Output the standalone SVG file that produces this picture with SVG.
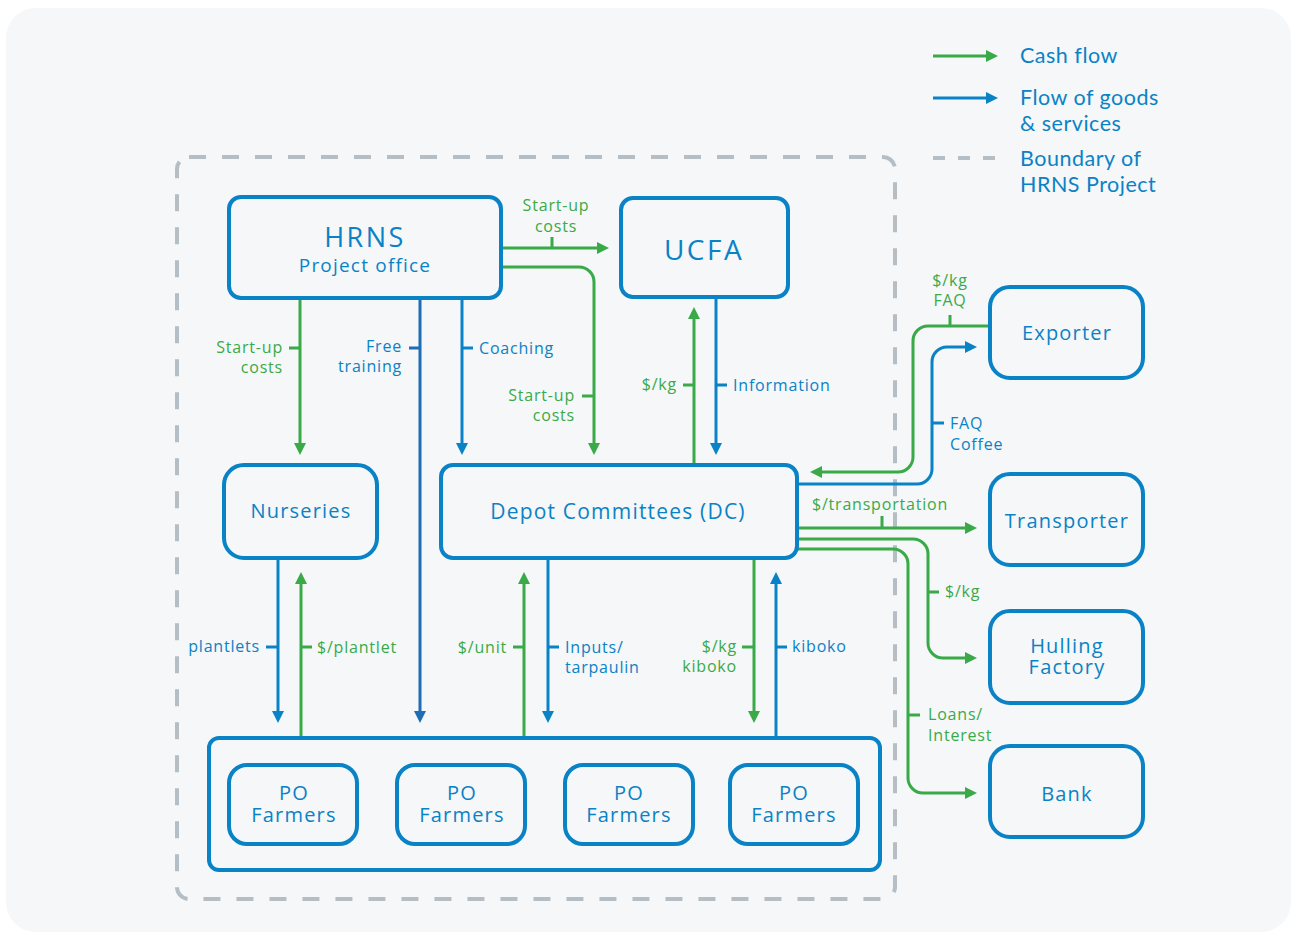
<svg xmlns="http://www.w3.org/2000/svg" width="1292" height="933" viewBox="0 0 1292 933">
<defs>
<marker id="ag" viewBox="0 0 12 12" refX="1" refY="6" markerWidth="12" markerHeight="12" markerUnits="userSpaceOnUse" orient="auto"><path d="M0,0 L12,6 L0,12 z" fill="#3aaa48"/></marker>
<marker id="ab" viewBox="0 0 12 12" refX="1" refY="6" markerWidth="12" markerHeight="12" markerUnits="userSpaceOnUse" orient="auto"><path d="M0,0 L12,6 L0,12 z" fill="#0a82c6"/></marker>
<marker id="ad" viewBox="0 0 12 12" refX="1" refY="6" markerWidth="12" markerHeight="12" markerUnits="userSpaceOnUse" orient="auto"><path d="M0,0 L12,6 L0,12 z" fill="#1f6db5"/></marker>
</defs>
<style>
.box{fill:none;stroke:#0a82c6;stroke-width:4}
.g{fill:none;stroke:#3aaa48;stroke-width:3}
.b{fill:none;stroke:#0a82c6;stroke-width:3}
.d{fill:none;stroke:#1f6db5;stroke-width:3}
.ga{marker-end:url(#ag)}
.ba{marker-end:url(#ab)}
.da{marker-end:url(#ad)}
text{font-family:"Open Sans","Noto Sans",sans-serif}
.lg{fill:#3aaa48;font-size:16px;letter-spacing:0.8px}
.lb{fill:#0a82c6;font-size:16px;letter-spacing:0.8px}
.nt{fill:#0a82c6;font-size:20px;text-anchor:middle;letter-spacing:1.2px}
.leg{fill:#0a82c6;font-size:21.5px;letter-spacing:0.5px;font-family:Lato,"Open Sans",sans-serif}
.e{text-anchor:end}
.m{text-anchor:middle}
</style>
<rect x="0" y="0" width="1292" height="933" fill="#ffffff"/>
<rect x="6" y="8" width="1285" height="924" rx="30" fill="#f5f7f9"/>

<g id="boundary">
<rect x="177" y="157" width="718" height="742" rx="12" fill="none" stroke="#b5bec4" stroke-width="4" stroke-dasharray="17 16"/>
</g>

<g id="legend">
<path class="g ga" d="M933,56 H987"/>
<text class="leg" x="1020" y="63">Cash flow</text>
<path class="b ba" d="M933,98 H987"/>
<text class="leg" x="1020" y="105">Flow of goods</text>
<text class="leg" x="1020" y="131">&amp; services</text>
<path d="M933,158 H998" fill="none" stroke="#b5bec4" stroke-width="4" stroke-dasharray="12 13"/>
<text class="leg" x="1020" y="166">Boundary of</text>
<text class="leg" x="1020" y="192">HRNS Project</text>
</g>

<g id="connectors">
<path class="g ga" d="M503,248 H598"/><path class="g" d="M552,248 V237"/>
<text class="lg m" x="556" y="211">Start-up</text><text class="lg m" x="556" y="232">costs</text>

<path class="g ga" d="M503,267 H579 A15,15 0 0 1 594,282 V444"/><path class="g" d="M594,396 H582"/>
<text class="lg e" x="575" y="401">Start-up</text><text class="lg e" x="575" y="421">costs</text>

<path class="g ga" d="M300,299 V444"/><path class="g" d="M300,348 H289"/>
<text class="lg e" x="283" y="353">Start-up</text><text class="lg e" x="283" y="373">costs</text>

<path class="d da" d="M420,299 V712"/><path class="d" d="M420,348 H409"/>
<text class="lb e" x="402" y="352">Free</text><text class="lb e" x="402" y="372">training</text>

<path class="b ba" d="M462,299 V444"/><path class="b" d="M462,348 H473"/>
<text class="lb" x="479" y="354">Coaching</text>

<path class="g ga" d="M694,464 V318"/><path class="g" d="M694,385 H683"/>
<text class="lg e" x="677" y="390">$/kg</text>

<path class="b ba" d="M716,299 V444"/><path class="b" d="M716,385 H727"/>
<text class="lb" x="733" y="391">Information</text>

<path class="g ga" d="M988,326 H928 A15,15 0 0 0 913,341 V457 A15,15 0 0 1 898,472 H821"/><path class="g" d="M950,326 V315"/>
<text class="lg m" x="950" y="286">$/kg</text><text class="lg m" x="950" y="306">FAQ</text>

<path class="b ba" d="M797,484 H917 A15,15 0 0 0 932,469 V362 A15,15 0 0 1 947,347 H966"/><path class="b" d="M932,423 H944"/>
<text class="lb" x="950" y="429">FAQ</text><text class="lb" x="950" y="450">Coffee</text>

<path class="g ga" d="M797,528 H966"/><path class="g" d="M882,528 V516"/>
<text class="lg m" x="880" y="510">$/transportation</text>

<path class="g ga" d="M797,539 H913 A15,15 0 0 1 928,554 V643 A15,15 0 0 0 943,658 H966"/><path class="g" d="M928,592 H939"/>
<text class="lg" x="945" y="597">$/kg</text>

<path class="g ga" d="M797,549 H893 A15,15 0 0 1 908,564 V778 A15,15 0 0 0 923,793 H966"/><path class="g" d="M908,715 H920"/>
<text class="lg" x="928" y="720">Loans/</text><text class="lg" x="928" y="741">Interest</text>

<path class="b ba" d="M278,560 V712"/><path class="b" d="M278,647 H266"/>
<text class="lb e" x="260" y="652">plantlets</text>

<path class="g ga" d="M301,737 V583"/><path class="g" d="M301,647 H312"/>
<text class="lg" x="317" y="653">$/plantlet</text>

<path class="g ga" d="M524,737 V583"/><path class="g" d="M524,647 H513"/>
<text class="lg e" x="507" y="653">$/unit</text>

<path class="b ba" d="M548,560 V712"/><path class="b" d="M548,647 H559"/>
<text class="lb" x="565" y="653">Inputs/</text><text class="lb" x="565" y="673">tarpaulin</text>

<path class="g ga" d="M754,560 V712"/><path class="g" d="M754,647 H742"/>
<text class="lg e" x="737" y="652">$/kg</text><text class="lg e" x="737" y="672">kiboko</text>

<path class="b ba" d="M776,737 V583"/><path class="b" d="M776,647 H787"/>
<text class="lb" x="792" y="652">kiboko</text>
</g>

<g id="hrns"><rect class="box" x="229" y="197" width="272" height="101" rx="12"/>
<text class="nt" x="365" y="247" style="font-size:27px;letter-spacing:2.5px">HRNS</text>
<text class="nt" x="365" y="272" style="font-size:19px">Project office</text></g>

<g id="ucfa"><rect class="box" x="621" y="198" width="167" height="99" rx="12"/>
<text class="nt" x="704" y="260" style="font-size:28px;letter-spacing:2.5px">UCFA</text></g>

<g id="nurseries"><rect class="box" x="224" y="465" width="153" height="93" rx="20"/>
<text class="nt" x="301" y="518">Nurseries</text></g>

<g id="dc"><rect class="box" x="441" y="465" width="356" height="93" rx="12"/>
<text class="nt" x="618" y="519" style="font-size:21px">Depot Committees (DC)</text></g>

<g id="exporter"><rect class="box" x="990" y="287" width="153" height="91" rx="20"/>
<text class="nt" x="1067" y="340">Exporter</text></g>

<g id="transporter"><rect class="box" x="990" y="474" width="153" height="91" rx="20"/>
<text class="nt" x="1067" y="528">Transporter</text></g>

<g id="hulling"><rect class="box" x="990" y="611" width="153" height="92" rx="20"/>
<text class="nt" x="1067" y="653">Hulling</text><text class="nt" x="1067" y="674">Factory</text></g>

<g id="bank"><rect class="box" x="990" y="746" width="153" height="91" rx="20"/>
<text class="nt" x="1067" y="801">Bank</text></g>

<g id="farmers"><rect class="box" x="209" y="738" width="671" height="132" rx="10"/>
<g id="po1"><rect class="box" x="229" y="765" width="128" height="79" rx="18"/>
<text class="nt" x="294" y="800">PO</text><text class="nt" x="294" y="822">Farmers</text></g>
<g id="po2"><rect class="box" x="397" y="765" width="128" height="79" rx="18"/>
<text class="nt" x="462" y="800">PO</text><text class="nt" x="462" y="822">Farmers</text></g>
<g id="po3"><rect class="box" x="565" y="765" width="128" height="79" rx="18"/>
<text class="nt" x="629" y="800">PO</text><text class="nt" x="629" y="822">Farmers</text></g>
<g id="po4"><rect class="box" x="730" y="765" width="128" height="79" rx="18"/>
<text class="nt" x="794" y="800">PO</text><text class="nt" x="794" y="822">Farmers</text></g>
</g>
</svg>
